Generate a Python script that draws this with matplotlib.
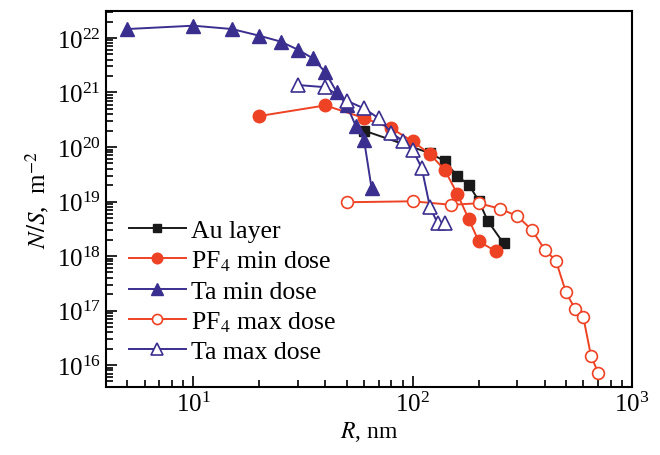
# -*- coding: utf-8 -*-
# N/S vs R on log-log axes, five series
import numpy as np
import matplotlib
matplotlib.use("Agg")
import matplotlib.pyplot as plt
from matplotlib.ticker import LogLocator, FixedLocator, NullFormatter

plt.rcParams['font.family'] = ['Liberation Serif', 'DejaVu Serif']
plt.rcParams['mathtext.fontset'] = 'stix'

# data
r_au = [60, 120, 140, 160, 180, 200, 220, 260]
ns_au = [2.0e20, 7.7e19, 5.5e19, 2.9e19, 2.05e19, 1.04e19, 4.4e18, 1.7e18]

r_pf_min = [20, 40, 60, 80, 100, 120, 140, 160, 180, 200, 240]
ns_pf_min = [3.7e20, 5.8e20, 3.4e20, 2.2e20, 1.27e20, 7.4e19, 3.8e19,
             1.37e19, 4.8e18, 1.86e18, 1.22e18]

r_ta_min = [5, 10, 15, 20, 25, 30, 35, 40, 45, 50, 55, 60, 65]
ns_ta_min = [1.46e22, 1.68e22, 1.46e22, 1.1e22, 8.6e21, 6.1e21, 4.25e21,
             2.35e21, 1.03e21, 5.9e20, 2.46e20, 1.36e20, 1.74e19]

r_pf_max = [50, 100, 150, 200, 250, 300, 350, 400, 450, 500, 550, 600, 650, 700]
ns_pf_max = [9.7e18, 1.01e19, 8.7e18, 9.3e18, 7.4e18, 5.4e18, 3.0e18,
             1.31e18, 8.2e17, 2.16e17, 1.07e17, 7.5e16, 1.48e16, 7.3e15]

r_ta_max = [30, 40, 50, 60, 70, 80, 90, 100, 110, 120, 130, 140]
ns_ta_max = [1.37e21, 1.25e21, 7.1e20, 5.1e20, 3.37e20, 1.81e20, 1.31e20,
             8.9e19, 4.1e19, 7.8e18, 4.0e18, 4.0e18]

x_major = [1e1, 1e2, 1e3]
y_major = [1e16, 1e17, 1e18, 1e19, 1e20, 1e21, 1e22]

navy = '#3a2f8f'
red = '#ee4224'
black = '#1a1a1a'

fig = plt.figure(figsize=(6.6, 4.56), dpi=100)
ax = fig.add_axes([0.1606, 0.150, 0.797, 0.8237])

lw = 1.4
ax.plot(r_au, ns_au, '-s', color=black, lw=lw, ms=7, label='Au layer')
ax.plot(r_pf_min, ns_pf_min, '-o', color=red, lw=lw, ms=9, label='PF$_4$ min dose')
ax.plot(r_ta_min, ns_ta_min, '-^', color=navy, lw=lw, ms=9.5, label='Ta min dose')
ax.plot(r_pf_max, ns_pf_max, '-o', color=red, lw=lw, ms=8.5, mfc='white',
        mew=1.2, label='PF$_4$ max dose')
ax.plot(r_ta_max, ns_ta_max, '-^', color=navy, lw=lw, ms=9.5, mfc='white',
        mew=1.2, label='Ta max dose')

ax.set_xscale('log')
ax.set_yscale('log')
ax.set_xlim(4, 1000)
ax.set_ylim(10**15.605, 10**22.495)

ax.xaxis.set_major_locator(FixedLocator(x_major))
ax.yaxis.set_major_locator(FixedLocator(y_major))
ax.xaxis.set_minor_locator(LogLocator(base=10, subs=np.arange(2, 10), numticks=20))
ax.yaxis.set_minor_locator(LogLocator(base=10, subs=np.arange(2, 10), numticks=20))
ax.xaxis.set_minor_formatter(NullFormatter())
ax.yaxis.set_minor_formatter(NullFormatter())

ax.tick_params(which='both', direction='in', top=False, right=False,
               labelsize=18, width=1.2)
ax.tick_params(which='major', length=8)
ax.tick_params(which='minor', length=5)
for s in ax.spines.values():
    s.set_linewidth(1.5)

ax.set_xlabel('$R$, nm', fontsize=17, labelpad=2)
ax.set_ylabel('$N/S$,  m$^{-2}$', fontsize=18, labelpad=4)

leg = ax.legend(loc='lower left', frameon=False, markerscale=0.85,
                fontsize=18.5, handlelength=2.2, handletextpad=0.2,
                labelspacing=0.26, borderaxespad=0.5)

fig.savefig('out.png', dpi=100)
